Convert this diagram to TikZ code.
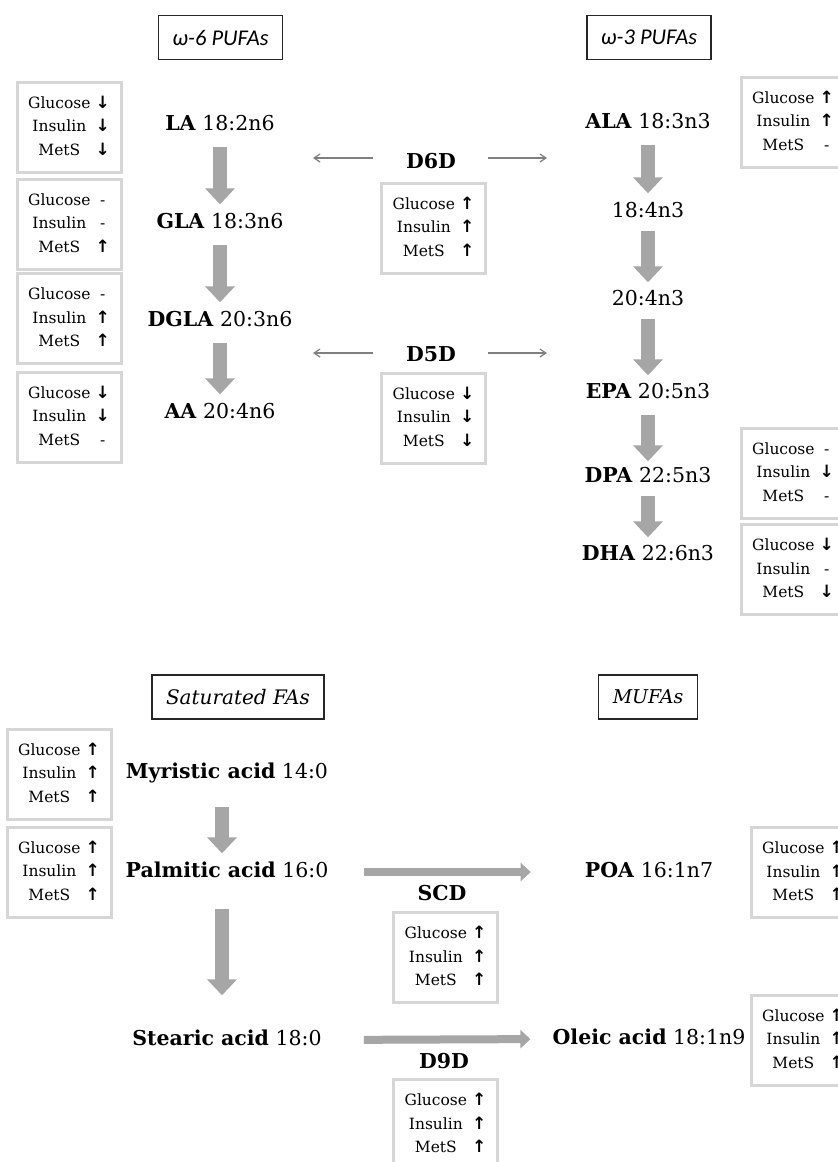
\documentclass[tikz,border=0pt]{standalone}
\usepackage{fontspec}
\setmainfont{DejaVu Serif}
\newfontfamily\titlesf{Carlito}
\newfontfamily\symf{DejaVu Sans}
\usetikzlibrary{arrows.meta}

\definecolor{arrgray}{RGB}{166,166,166}
\definecolor{linegray}{RGB}{128,128,128}
\definecolor{boxgray}{RGB}{214,214,214}

\newcommand{\incr}{{\symf\bfseries\fontsize{17}{23.5}\selectfont ↑}}
\newcommand{\decr}{{\symf\bfseries\fontsize{17}{23.5}\selectfont ↓}}
\newcommand{\same}{-}
% Glucose / Insulin / MetS
\newcommand{\effects}[3]{\begin{tabular}{@{}c@{\hspace{5pt}}c@{}}Glucose & #1\\ Insulin & #2\\ MetS & #3\end{tabular}}

\tikzset{
  acid/.style={inner sep=0pt, text height=15pt, text depth=4pt, font=\fontsize{20.5}{24}\selectfont},
  enzyme/.style={inner sep=0pt, font=\fontsize{20.5}{24}\selectfont\bfseries},
  effbox/.style={draw=boxgray, line width=3pt, minimum width=104pt, minimum height=90pt, inner sep=0pt, font=\fontsize{15.5}{23.5}\selectfont},
  group/.style={draw=black!85, line width=1.4pt, minimum height=44pt, inner xsep=14pt},
  bigarr/.style={arrgray, line width=14pt, -{Triangle[width=29pt,length=16pt]}},
  fatarr/.style={arrgray, line width=8pt, -{Triangle[width=18pt,length=10pt]}},
  thinarr/.style={linegray, line width=1.2pt, -{Straight Barb[length=6pt,width=8pt]}}
}

\begin{document}
\begin{tikzpicture}[x=1pt, y=-1pt]
\path[use as bounding box, clip] (0,0) rectangle (838,1162);
\fill[white] (0,0) rectangle (838,1162);

% group headers
\node[group, font=\titlesf\itshape\fontsize{22.5}{24}\selectfont] (w6) at (220.5,37.5) {ω-6 PUFAs};
\node[group, font=\titlesf\itshape\fontsize{22.5}{24}\selectfont] (w3) at (649,37.5) {ω-3 PUFAs};
\node[group, font=\itshape\fontsize{20}{24}\selectfont] (sat) at (238,697) {Saturated FAs};
\node[group, font=\itshape\fontsize{19}{24}\selectfont] (mufa) at (648,697) {MUFAs};

% omega-6 chain
\node[acid] (la) at (220,125) {\textbf{LA} 18:2n6};
\node[acid] (gla) at (220,223) {\textbf{GLA} 18:3n6};
\node[acid] (dgla) at (220,321) {\textbf{DGLA} 20:3n6};
\node[acid] (aa) at (220,413) {\textbf{AA} 20:4n6};

\node[effbox] (laeff) at (69,127) {\effects{\decr}{\decr}{\decr}};
\node[effbox] (glaeff) at (69,224) {\effects{\same}{\same}{\incr}};
\node[effbox] (dglaeff) at (69,318.5) {\effects{\same}{\incr}{\incr}};
\node[effbox] (aaeff) at (69,417) {\effects{\decr}{\decr}{\same}};

\draw[bigarr, shorten <=12pt, shorten >=9pt] (la.south) -- (gla.north);
\draw[bigarr, shorten <=12pt, shorten >=9pt] (gla.south) -- (dgla.north);
\draw[bigarr, shorten <=12pt, shorten >=9pt] (dgla.south) -- (aa.north);

% omega-3 chain
\node[acid] (ala) at (648,123) {\textbf{ALA} 18:3n3};
\node[acid] (sda) at (648,212) {18:4n3};
\node[acid] (eta) at (648,300) {20:4n3};
\node[acid] (epa) at (648,393) {\textbf{EPA} 20:5n3};
\node[acid] (dpa) at (648,477) {\textbf{DPA} 22:5n3};
\node[acid] (dha) at (648,555) {\textbf{DHA} 22:6n3};

\node[effbox] (alaeff) at (793,122) {\effects{\incr}{\incr}{\same}};
\node[effbox] (dpaeff) at (793,473) {\effects{\same}{\decr}{\same}};
\node[effbox] (dhaeff) at (793,569.5) {\effects{\decr}{\same}{\decr}};

\draw[bigarr, shorten <=12pt, shorten >=9pt] (ala.south) -- (sda.north);
\draw[bigarr, shorten <=9pt, shorten >=8pt] (sda.south) -- (eta.north);
\draw[bigarr, shorten <=9pt, shorten >=8pt] (eta.south) -- (epa.north);
\draw[bigarr, shorten <=12pt, shorten >=6pt] (epa.south) -- (dpa.north);
\draw[bigarr, shorten <=9pt, shorten >=8pt] (dpa.south) -- (dha.north);

% desaturases between the chains
\node[enzyme] (d6d) at (431,161) {D6D};
\node[effbox] (d6deff) at (433.5,228) {\effects{\incr}{\incr}{\incr}};
\node[enzyme] (d5d) at (431,354) {D5D};
\node[effbox] (d5deff) at (433.5,418) {\effects{\decr}{\decr}{\decr}};

\coordinate (d6dL) at (313,158);
\coordinate (d6dR) at (547,158);
\coordinate (d5dL) at (313,353);
\coordinate (d5dR) at (547,353);
\draw[thinarr, shorten <=33pt] (d6dL -| d6d.west) -- (d6dL);
\draw[thinarr, shorten <=32pt] (d6dR -| d6d.east) -- (d6dR);
\draw[thinarr, shorten <=33pt] (d5dL -| d5d.west) -- (d5dL);
\draw[thinarr, shorten <=32pt] (d5dR -| d5d.east) -- (d5dR);

% saturated and monounsaturated
\node[acid] (myr) at (227,773) {\textbf{Myristic acid} 14:0};
\node[acid] (palm) at (227,872) {\textbf{Palmitic acid} 16:0};
\node[acid] (stear) at (227,1040) {\textbf{Stearic acid} 18:0};
\node[acid] (poa) at (649,872) {\textbf{POA} 16:1n7};
\node[acid] (ole) at (649,1039) {\textbf{Oleic acid} 18:1n9};

\node[effbox] (myreff) at (59,774) {\effects{\incr}{\incr}{\incr}};
\node[effbox] (palmeff) at (59,872) {\effects{\incr}{\incr}{\incr}};
\node[effbox] (poaeff) at (803,872.5) {\effects{\incr}{\incr}{\incr}};
\node[effbox] (oleeff) at (803,1040) {\effects{\incr}{\incr}{\incr}};

\node[enzyme] (scd) at (442,893) {SCD};
\node[effbox] (scdeff) at (445.5,957.5) {\effects{\incr}{\incr}{\incr}};
\node[enzyme] (d9d) at (444,1061) {D9D};
\node[effbox] (d9deff) at (445.5,1124.5) {\effects{\incr}{\incr}{\incr}};

\draw[bigarr, shorten <=24pt, shorten >=9pt] ([xshift=-5pt]myr.south) -- ([xshift=-5pt]palm.north);
\draw[bigarr, shorten <=27pt, shorten >=35pt] ([xshift=-5pt]palm.south) -- ([xshift=-5pt]stear.north);
\draw[fatarr, shorten <=35pt, shorten >=54pt] (palm.east) -- (poa.west);
\draw[fatarr, shorten <=42pt, shorten >=22pt] (stear.east) -- (ole.west);

\end{tikzpicture}
\end{document}
